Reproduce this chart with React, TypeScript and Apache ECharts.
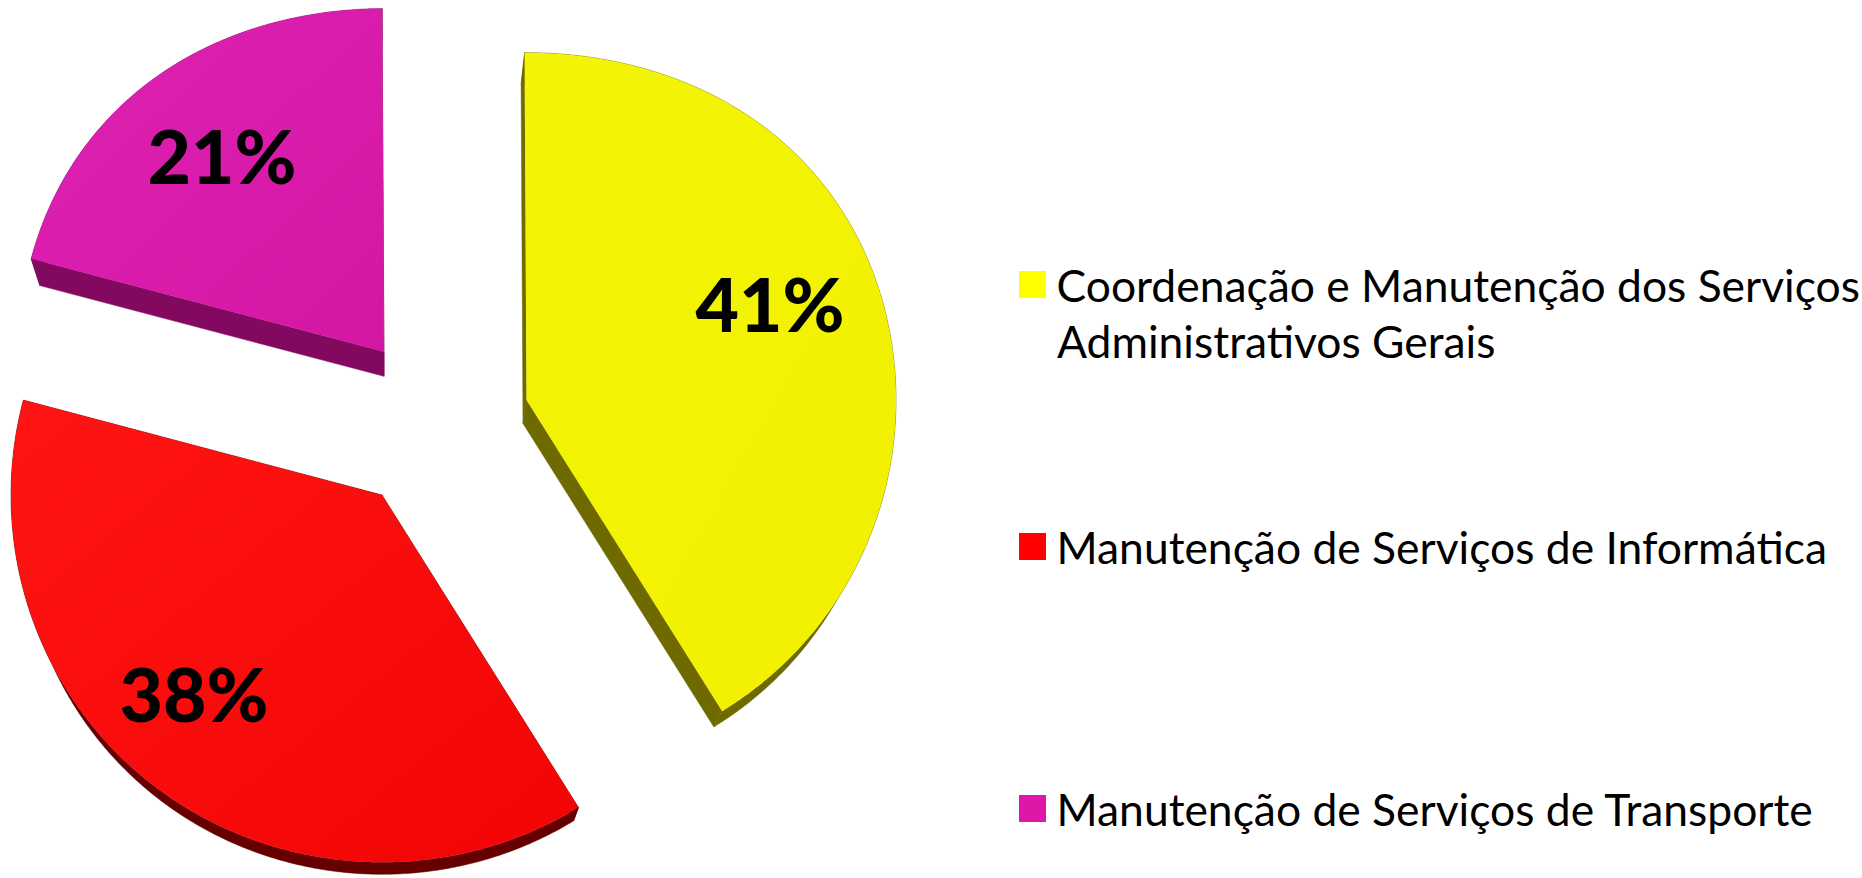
import React, { useEffect, useRef } from "react";
import * as echarts from "echarts";

const categories = [
  "Coordenação e Manutenção dos Serviços Administrativos Gerais",
  "Manutenção de Serviços de Informática",
  "Manutenção de Serviços de Transporte",
];
const legendFirstLines = ["Coordenação e Manutenção dos Serviços", "Manutenção de Serviços de Informática", "Manutenção de Serviços de Transporte"];
const legendSecondLine = "Administrativos Gerais";
const values = [41.2, 38.0, 20.8];
const legendColors = ["#ffff00", "#ff0000", "#df17a8"];
const topColorsStart = ["#f3f506", "#ff1414", "#de22b2"];
const topColorsEnd = ["#f2f000", "#f20404", "#d416a4"];
const sideColors = ["#6e6a00", "#660000", "#82095f"];
const apexX = [526.5, 382, 384];
const apexY = [400, 495, 351.7];
const radii = [369.5, 371, 365];
const flattenTop = [0.06, 0, 0.06];
const labelX = [770, 194, 222];
const labelY = [303, 693, 155];
const legendTop = [262.5, 524.5, 786.5];
const START_ANGLE = -0.3;
const VP = [384, 1348];
const DEPTH = 0.0247;

const FONT = "Lato";

function project(i: number, deg: number): number[] {
  const t = (deg * Math.PI) / 180;
  const c = Math.cos(t);
  const s = Math.sin(t);
  const flat = c > 0 ? flattenTop[i] : 0.01;
  return [apexX[i] + radii[i] * s, apexY[i] - radii[i] * c * (1 - flat * c * c)];
}

function deepen(p: number[]): number[] {
  return [p[0] + DEPTH * (VP[0] - p[0]), p[1] + DEPTH * (VP[1] - p[1])];
}

const total = values.reduce((a, b) => a + b, 0);

function makeSeries(i: number) {
  const before = values.slice(0, i).reduce((a, b) => a + b, 0);
  return {
    type: "custom",
    name: categories[i],
    coordinateSystem: "none",
    itemStyle: { color: legendColors[i] },
    silent: true,
    data: [[values[i]]],
    renderItem: (_: any, api: any) => {
      const v = api.value(0);
      const a0 = START_ANGLE + (before / total) * 360;
      const a1 = a0 + (v / total) * 360;
      const arc: number[][] = [];
      const n = Math.ceil(a1 - a0) * 2;
      for (let k = 0; k <= n; k++) arc.push(project(i, a0 + ((a1 - a0) * k) / n));
      const apex = [apexX[i], apexY[i]];
      const arcD = arc.map(deepen);
      const apexD = deepen(apex);
      const side = sideColors[i];
      const sideStyle = { fill: side, stroke: side, lineWidth: 0.5 };
      const last = arc[arc.length - 1];
      const lastD = arcD[arcD.length - 1];
      return {
        type: "group",
        children: [
          { type: "polygon", shape: { points: [...arc, ...arcD.slice().reverse()] }, style: sideStyle },
          { type: "polygon", shape: { points: [apex, arc[0], arcD[0], apexD] }, style: sideStyle },
          { type: "polygon", shape: { points: [apex, last, lastD, apexD] }, style: sideStyle },
          {
            type: "polygon",
            shape: { points: [apex, ...arc] },
            style: {
              fill: new echarts.graphic.LinearGradient(0, 0, 1, 1, [
                { offset: 0, color: topColorsStart[i] },
                { offset: 1, color: topColorsEnd[i] },
              ]),
            },
          },
          {
            type: "text",
            style: {
              text: `${Math.round(v)}%`,
              x: labelX[i],
              y: labelY[i],
              align: "center",
              verticalAlign: "middle",
              fontFamily: FONT,
              fontWeight: 900,
              fontSize: 75,
              fill: "#000000",
            },
          },
        ],
      };
    },
  };
}

export default function App() {
  const ref = useRef<HTMLDivElement>(null);
  useEffect(() => {
    const chart = echarts.init(ref.current!, undefined, { renderer: "svg" });
    chart.setOption({
      animation: false,
      backgroundColor: "#ffffff",
      legend: categories.map((name, i) => ({
        show: true,
        orient: "vertical",
        left: 1019,
        top: legendTop[i],
        padding: 0,
        data: [{ name, icon: "rect" }],
        itemWidth: 27,
        itemHeight: 27,
        itemGap: 0,
        selectedMode: false,
        formatter: () => legendFirstLines[i],
        textStyle: { fontFamily: FONT, fontSize: 44.4, color: "#000000", padding: [0, 0, 0, 5.5] },
      })),
      graphic: [
        {
          type: "text",
          left: 1057,
          top: 318,
          silent: true,
          style: { text: legendSecondLine, fontFamily: FONT, fontSize: 44.4, fill: "#000000" },
        },
      ],
      series: categories.map((_, i) => makeSeries(i)),
    });
    return () => chart.dispose();
  }, []);
  return <div ref={ref} style={{ position: "absolute", left: 0, top: 0, width: 1862, height: 878 }} />;
}
